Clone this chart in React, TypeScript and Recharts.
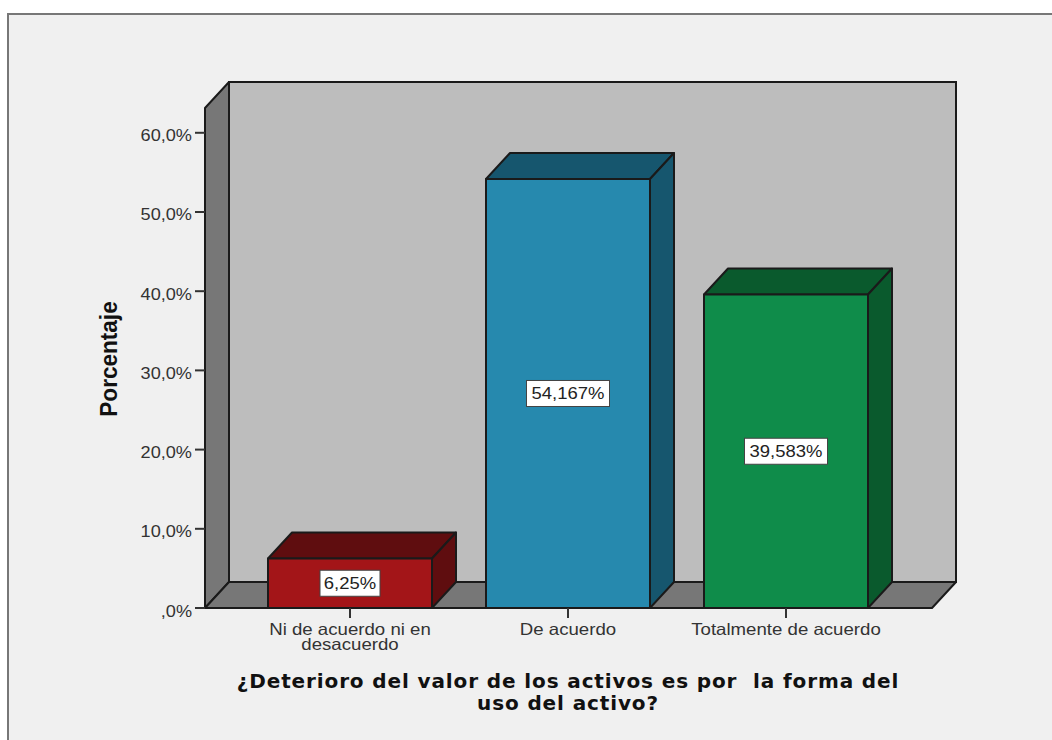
import React from 'react';
import { BarChart, Bar, XAxis, YAxis, Cell, LabelList } from 'recharts';

const categories = ['Ni de acuerdo ni en|desacuerdo', 'De acuerdo', 'Totalmente de acuerdo'];
const percentages = [6.25, 54.167, 39.583];
const valueLabels = ['6,25%', '54,167%', '39,583%'];
const frontColors = ['#a31518', '#2689ae', '#0f8c4a'];
const darkColors = ['#5f0d0f', '#16566e', '#0a5a2d'];
const yTicks = [0, 10, 20, 30, 40, 50, 60];
const titleLines = ['¿Deterioro del valor de los activos es por  la forma del', 'uso del activo?'];

const data = categories.map((name, i) => ({ name, value: percentages[i] }));

const DX = 24;
const DY = -26;
const INK = '#1a1a1a';
const left = 205;
const right = 932;
const top = 108;
const base = 608;

const pts = (list: number[][]) => list.map((p) => p.join(',')).join(' ');

const Box3D = (props: any) => {
  const { x, y, width, height, index } = props;
  const dark = darkColors[index];
  return (
    <g stroke={INK} strokeWidth={2} strokeLinejoin="round">
      <polygon fill={dark} points={pts([[x, y], [x + DX, y + DY], [x + width + DX, y + DY], [x + width, y]])} />
      <polygon fill={dark} points={pts([[x + width, y], [x + width + DX, y + DY], [x + width + DX, y + height + DY], [x + width, y + height]])} />
      <rect x={x} y={y} width={width} height={height} fill={frontColors[index]} />
    </g>
  );
};

const ValueBox = (props: any) => {
  const { x, y, width, height, index } = props;
  const text = valueLabels[index];
  const w = text.length > 5 ? 83 : 60;
  const cx = x + width / 2;
  const cy = y + height / 2;
  return (
    <g>
      <rect x={cx - w / 2} y={cy - 13} width={w} height={26} fill="#fff" stroke="#444" strokeWidth={1} />
      <text
        transform={`translate(${cx},${cy + 6}) scale(1.12,1)`}
        textAnchor="middle"
        fontFamily="Liberation Sans"
        fontSize={16.5}
        fill="#222"
      >
        {text}
      </text>
    </g>
  );
};

const CategoryTick = (props: any) => {
  const { x, y, payload } = props;
  const lines = String(payload.value).split('|');
  return (
    <text
      transform={`translate(${x},${y + 15}) scale(1.13,1)`}
      textAnchor="middle"
      fontFamily="Liberation Sans"
      fontSize={16.5}
      fill="#333"
    >
      {lines.map((line, i) => (
        <tspan key={i} x={0} y={i * 15}>{line}</tspan>
      ))}
    </text>
  );
};

const PercentTick = (props: any) => {
  const { x, y, payload } = props;
  const v = payload.value;
  return (
    <text
      transform={`translate(${x},${y + 8.5}) scale(1.1,1)`}
      textAnchor="end"
      fontFamily="Liberation Sans"
      fontSize={16.5}
      fill="#333"
    >
      {v === 0 ? ',0%' : `${v},0%`}
    </text>
  );
};

export default function App() {
  return (
    <div style={{ position: 'fixed', left: 0, top: 0, width: 1052, height: 740, background: '#fff', overflow: 'hidden' }}>
      <BarChart
        width={1052}
        height={740}
        data={data}
        margin={{ top, right: 1052 - right, left: 0, bottom: 0 }}
        barCategoryGap={27}
      >
        <rect x={8} y={14} width={1060} height={740} fill="#f0f0f0" stroke="#777" strokeWidth={2} />
        <polygon fill="#bdbdbd" stroke={INK} strokeWidth={2} points={pts([[left + DX, top + DY], [right + DX, top + DY], [right + DX, base + DY], [left + DX, base + DY]])} />
        <polygon fill="#777" stroke={INK} strokeWidth={2} strokeLinejoin="round" points={pts([[left, top], [left + DX, top + DY], [left + DX, base + DY], [left, base]])} />
        <polygon fill="#777" stroke={INK} strokeWidth={2} strokeLinejoin="round" points={pts([[left, base], [left + DX, base + DY], [right + DX, base + DY], [right, base]])} />
        <XAxis
          dataKey="name"
          height={132}
          interval={0}
          padding={{ left: 36, right: 37 }}
          tickSize={10}
          tick={<CategoryTick />}
          axisLine={{ stroke: INK, strokeWidth: 2 }}
          tickLine={{ stroke: '#333', strokeWidth: 2 }}
        />
        <YAxis
          width={205}
          domain={[0, 63.13]}
          ticks={yTicks}
          allowDataOverflow
          tickSize={10}
          tickMargin={3}
          tick={<PercentTick />}
          axisLine={{ stroke: INK, strokeWidth: 2 }}
          tickLine={{ stroke: '#333', strokeWidth: 2 }}
        />
        <Bar dataKey="value" shape={<Box3D />} isAnimationActive={false}>
          {data.map((d, i) => (
            <Cell key={d.name} fill={frontColors[i]} />
          ))}
          <LabelList dataKey="value" content={<ValueBox />} />
        </Bar>
        <text
          transform="translate(117,359) rotate(-90) scale(1.075,1.15)"
          textAnchor="middle"
          fontFamily="Liberation Sans"
          fontWeight="bold"
          fontSize={21}
          fill="#111"
        >
          Porcentaje
        </text>
        <text textAnchor="middle" fontFamily="DejaVu Sans" fontWeight="bold" fontSize={20} letterSpacing={0.88} fill="#111" xmlSpace="preserve">
          {titleLines.map((line, i) => (
            <tspan key={i} x={568} y={688 + i * 22}>{line}</tspan>
          ))}
        </text>
      </BarChart>
    </div>
  );
}
